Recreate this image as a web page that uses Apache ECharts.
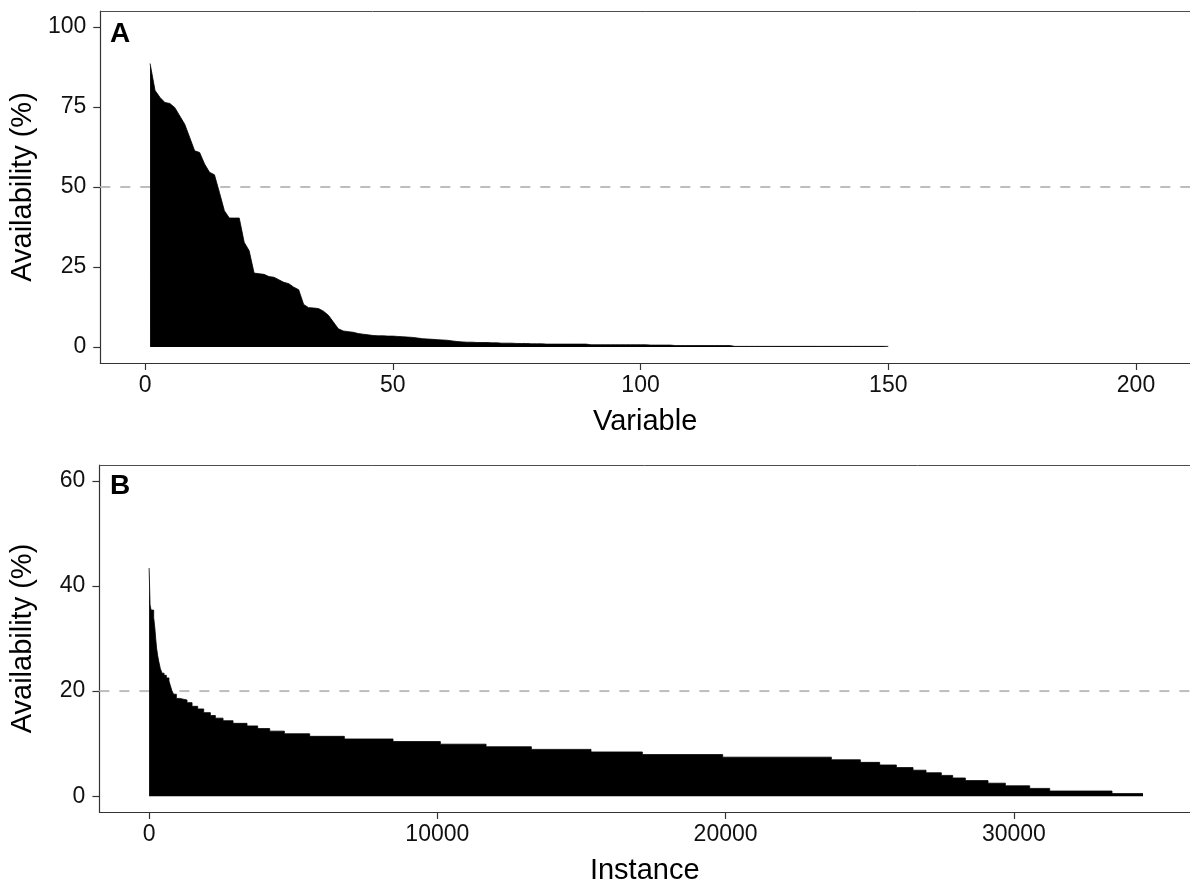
<!DOCTYPE html>
<html>
<head>
<meta charset="utf-8">
<script src="https://cdn.jsdelivr.net/npm/echarts@6/dist/echarts.min.js"></script>
<style>
html,body{margin:0;padding:0;background:#fff;}
#chart{width:1190px;height:886px;}
</style>
</head>
<body>
<div id="chart"></div>
<script>
// ---- Panel A: availability per variable (sorted) ----
const availabilityA = [
  88.6, 80.2, 78.0, 76.4, 76.1, 74.8, 72.2, 69.6, 65.5, 61.3,
  60.8, 57.2, 54.6, 53.8, 48.3, 42.6, 40.3, 40.3, 40.3, 32.7,
  30.1, 23.1, 22.9, 22.7, 22.0, 21.8, 21.0, 20.2, 19.8, 18.7,
  17.9, 13.3, 12.3, 12.2, 12.0, 11.2, 9.9, 7.8, 5.7, 5.0,
  4.8, 4.6, 4.2, 4.0, 3.8, 3.6, 3.5, 3.5, 3.4, 3.4,
  3.3, 3.2, 3.1, 3.0, 2.8, 2.6, 2.5, 2.4, 2.3, 2.2,
  2.1, 1.9, 1.7, 1.6, 1.5, 1.5, 1.4, 1.4, 1.4, 1.3,
  1.3, 1.2, 1.2, 1.2, 1.1, 1.1, 1.1, 1.0, 1.0, 1.0,
  0.9, 0.9, 0.9, 0.9, 0.9, 0.9, 0.9, 0.9, 0.9,
  0.7, 0.7, 0.7, 0.7, 0.7, 0.7, 0.7, 0.7, 0.7, 0.7, 0.7, 0.7,
  0.6, 0.6, 0.6, 0.6, 0.6,
  0.45, 0.45, 0.45, 0.45, 0.45, 0.45, 0.45, 0.45, 0.45, 0.45, 0.45, 0.45,
  0.2, 0.2, 0.2, 0.2, 0.2, 0.2, 0.2, 0.2, 0.2, 0.2, 0.2, 0.2, 0.2, 0.2, 0.2, 0.2,
  0.2, 0.2, 0.2, 0.2, 0.2, 0.2, 0.2, 0.2, 0.2, 0.2, 0.2, 0.2, 0.2, 0.2, 0.2, 0.2
];
const xTicksA = [0, 50, 100, 150, 200];
const yTicksA = [0, 25, 50, 75, 100];
const xRangeA = [-9.05, 210.9];
const yRangeA = [-5, 105];
const thresholdA = 50;

// ---- Panel B: availability per instance (sorted, step starts) ----
const instanceStarts = [
  1, 35, 70, 160, 200, 230, 260, 300, 334, 390,
  450, 520, 600, 690, 740, 790, 850, 947, 1063, 1317,
  1491, 1687, 1895, 2127, 2300, 2566, 2913, 3398, 3768, 4185,
  4694, 5572, 6775, 8463, 10105, 11690, 13262, 15331, 17112, 19899,
  23669, 24674, 25345, 25924, 26502, 26953, 27484, 27878, 28317, 29103,
  29705, 30549, 31243, 33405, 34480
];
const availabilityB = [
  43.4, 36.4, 35.4, 34.0, 32.0, 30.0, 28.2, 26.7, 25.7, 24.3,
  23.4, 23.0, 22.5, 21.9, 21.0, 20.1, 19.4, 18.6, 18.3, 17.8,
  17.1, 16.6, 15.9, 15.35, 14.85, 14.36, 13.86, 13.37, 12.87, 12.38,
  11.88, 11.39, 10.89, 10.4, 9.9, 9.41, 8.91, 8.42, 7.92, 7.43,
  6.93, 6.44, 5.94, 5.45, 4.95, 4.46, 3.96, 3.47, 2.97, 2.48,
  1.98, 1.49, 0.99, 0.5, 0.5
];
const xTicksB = [0, 10000, 20000, 30000];
const yTicksB = [0, 20, 40, 60];
const xRangeB = [-1723, 36110];
const yRangeB = [-3, 63];
const thresholdB = 20;

const FONT = 'Liberation Sans, Arial, sans-serif';
const chart = echarts.init(document.getElementById('chart'), null, {renderer: 'canvas'});

function xAxisCfg(idx, range, ticks, name) {
  return {
    gridIndex: idx, type: 'value', min: range[0], max: range[1],
    name: name, nameLocation: 'middle', nameGap: 44,
    nameTextStyle: {fontFamily: FONT, fontSize: 29, color: '#000'},
    axisLine: {show: true, onZero: false, lineStyle: {color: '#333', width: 1.2}},
    axisTick: {show: true, length: 7, inside: false, customValues: ticks, lineStyle: {color: '#333', width: 1.2}},
    axisLabel: {show: true, margin: 11, customValues: ticks, fontFamily: FONT, fontSize: 23, color: '#111',
      formatter: v => String(v)},
    splitLine: {show: false}
  };
}
function topAxisCfg(idx, range) {
  return {
    gridIndex: idx, type: 'value', position: 'top', min: range[0], max: range[1],
    axisLine: {show: true, onZero: false, lineStyle: {color: '#4d4d4d', width: 1}},
    axisTick: {show: false}, axisLabel: {show: false}, splitLine: {show: false}
  };
}
function yAxisCfg(idx, range, ticks) {
  return {
    gridIndex: idx, type: 'value', min: range[0], max: range[1],
    name: 'Availability (%)', nameLocation: 'middle', nameGap: 62,
    nameTextStyle: {fontFamily: FONT, fontSize: 29, color: '#000'},
    axisLine: {show: true, onZero: false, lineStyle: {color: '#333', width: 1.2}},
    axisTick: {show: true, length: 7, inside: false, customValues: ticks, lineStyle: {color: '#333', width: 1.2}},
    axisLabel: {show: true, margin: 14, customValues: ticks, fontFamily: FONT, fontSize: 23, color: '#111',
      formatter: v => String(v)},
    splitLine: {show: false}
  };
}

const dataA = availabilityA.map((v, i) => [i + 1, v]);
const dataB = instanceStarts.map((x, i) => [x, availabilityB[i]]);

const option = {
  animation: false,
  backgroundColor: '#fff',
  grid: [
    {left: 99.4, top: 11, right: 0, height: 352, show: false},
    {left: 99.4, top: 465, right: 0, height: 352, show: false}
  ],
  xAxis: [
    xAxisCfg(0, xRangeA, xTicksA, 'Variable'),
    xAxisCfg(1, xRangeB, xTicksB, 'Instance'),
    topAxisCfg(0, xRangeA),
    topAxisCfg(1, xRangeB)
  ],
  yAxis: [
    yAxisCfg(0, yRangeA, yTicksA),
    yAxisCfg(1, yRangeB, yTicksB)
  ],
  series: [
    {
      type: 'line', xAxisIndex: 0, yAxisIndex: 0, silent: true, symbol: 'none',
      data: [[xRangeA[0], thresholdA], [xRangeA[1], thresholdA]],
      lineStyle: {color: '#bdbdbd', width: 2, type: [10, 10]}, z: 1
    },
    {
      type: 'line', xAxisIndex: 0, yAxisIndex: 0, silent: true, symbol: 'none',
      data: dataA,
      lineStyle: {color: '#000', width: 0.8},
      areaStyle: {color: '#000', opacity: 1}, z: 2
    },
    {
      type: 'line', xAxisIndex: 1, yAxisIndex: 1, silent: true, symbol: 'none',
      data: [[xRangeB[0], thresholdB], [xRangeB[1], thresholdB]],
      lineStyle: {color: '#bdbdbd', width: 2, type: [10, 10]}, z: 1
    },
    {
      type: 'line', xAxisIndex: 1, yAxisIndex: 1, silent: true, symbol: 'none', step: 'end',
      data: dataB,
      lineStyle: {color: '#000', width: 0.8},
      areaStyle: {color: '#000', opacity: 1}, z: 2
    }
  ],
  graphic: [
    {type: 'text', left: 110, top: 20, style: {text: 'A', font: 'bold 28px ' + FONT, fill: '#000'}},
    {type: 'text', left: 110, top: 472, style: {text: 'B', font: 'bold 28px ' + FONT, fill: '#000'}}
  ]
};
chart.setOption(option);
</script>
</body>
</html>
